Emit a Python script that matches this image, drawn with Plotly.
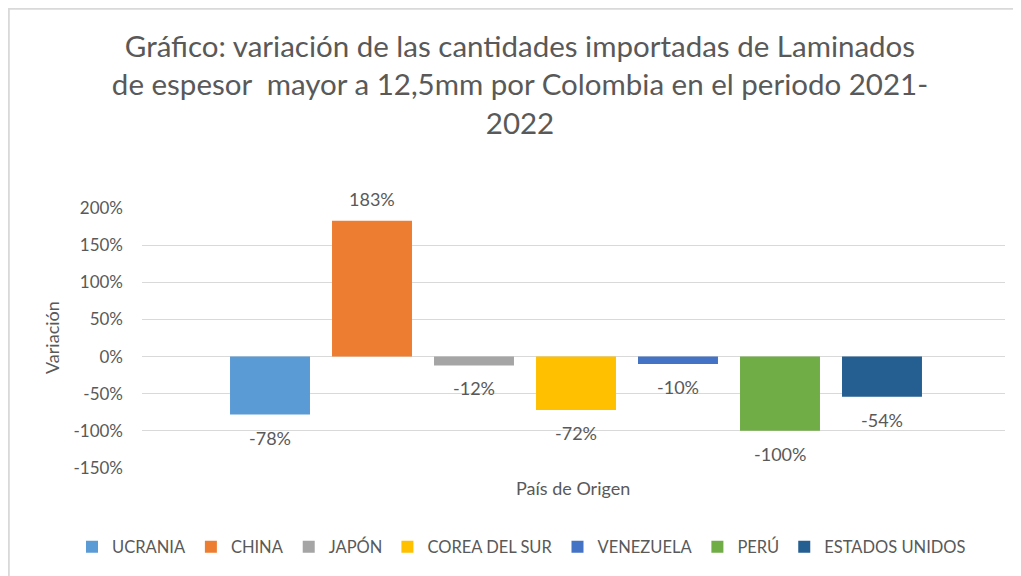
import plotly.graph_objects as go

paises = ["UCRANIA", "CHINA", "JAPÓN", "COREA DEL SUR", "VENEZUELA", "PERÚ", "ESTADOS UNIDOS"]
variacion = [-0.78, 1.83, -0.12, -0.72, -0.10, -1.00, -0.54]
colores = ["#5B9BD5", "#ED7D31", "#A5A5A5", "#FFC000", "#4472C4", "#70AD47", "#255E91"]
y_ticks = [-1.5, -1.0, -0.5, 0, 0.5, 1.0, 1.5, 2.0]
y_ticktext = ["-150%", "-100%", "-50%", "0%", "50%", "100%", "150%", "200%"]

titulo = ("Gráfico: variación de las cantidades importadas de Laminados<br>"
          "de espesor  mayor a 12,5mm por Colombia en el periodo 2021-<br>2022")

FONT = "Lato"
GRAY = "#595959"
W, H = 1013, 568  # page body has an 8px margin

def px(xp):
    return (xp - 142) / 863

def py(yp):
    return (468 - yp) / 260

fig = go.Figure()
for i, (p, v, c) in enumerate(zip(paises, variacion, colores)):
    fig.add_trace(go.Bar(x=[i], y=[v], name=p, marker=dict(color=c, line=dict(width=0)),
                         width=0.784, hoverinfo="skip"))
    fig.add_annotation(x=i, y=v, xref="x", yref="y", text=f"{round(v*100):d}%",
                       showarrow=False, yanchor="middle",
                       yshift=22 if v >= 0 else -23,
                       font=dict(family=FONT, size=18, color=GRAY))

fig.add_annotation(xref="paper", yref="paper", x=px(52), y=py(338),
                   text="Variación", textangle=-90, showarrow=False,
                   font=dict(family=FONT, size=18, color=GRAY), xanchor="center", yanchor="middle")
fig.add_annotation(xref="paper", yref="paper", x=px(573), y=py(488),
                   text="País de Origen", showarrow=False,
                   font=dict(family=FONT, size=18, color=GRAY), xanchor="center", yanchor="middle")

# chart area border (top and left visible)
fig.add_shape(type="rect", xref="paper", yref="paper",
              x0=px(8.8), x1=px(1060), y0=py(620), y1=py(8.8),
              line=dict(color="#D9D9D9", width=2), fillcolor="rgba(0,0,0,0)", layer="below")

fig.update_layout(
    width=W, height=H,
    margin=dict(l=134, r=16, t=200, b=108, autoexpand=False),
    paper_bgcolor="white", plot_bgcolor="white",
    title=dict(text=titulo, x=(520 - 8) / W, xanchor="center", y=(H - 49) / H, yanchor="middle",
               font=dict(family=FONT, size=29.5, color=GRAY)),
    barmode="overlay",
    showlegend=True,
    legend=dict(orientation="h", x=px(72), xanchor="left", y=py(547), yanchor="middle",
                font=dict(family=FONT, size=16.5, color=GRAY), traceorder="normal"),
    xaxis=dict(range=[-1.255, 7.206], showticklabels=False, showgrid=False, zeroline=False,
               showline=False, ticks="", automargin=False),
    yaxis=dict(range=[-1.5, 2.0], tickvals=y_ticks, ticktext=y_ticktext,
               showgrid=True, gridcolor="#D9D9D9", gridwidth=1,
               zeroline=True, zerolinecolor="#D9D9D9", zerolinewidth=1,
               showline=False, ticks="", ticklabelstandoff=18, automargin=False,
               tickfont=dict(family=FONT, size=17, color=GRAY)),
)

fig.write_html("out.html")
